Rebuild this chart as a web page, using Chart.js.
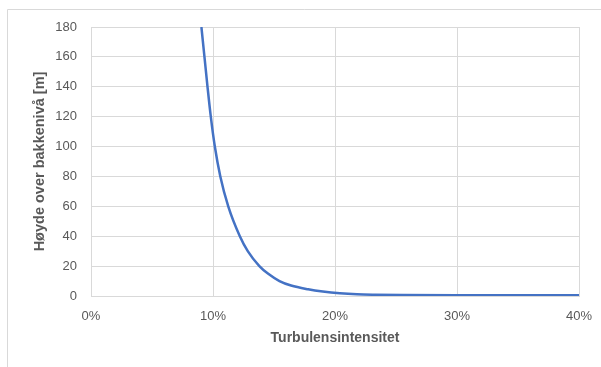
<!DOCTYPE html>
<html>
<head>
<meta charset="utf-8">
<script src="https://cdn.jsdelivr.net/npm/chart.js@4/dist/chart.umd.min.js"></script>
<style>
  html, body { margin: 0; padding: 0; background: #ffffff; overflow: hidden; }
  #wrap { position: relative; width: 601px; height: 367px; }
  canvas { display: block; }
</style>
</head>
<body>
<div id="wrap"><canvas id="c" width="601" height="367"></canvas></div>
<script>
// Turbulence intensity (%) against height above ground (m)
const turbulence = [9.05, 9.3, 9.55, 9.82, 10.15, 10.6, 11.25, 12.2, 12.85, 13.8, 14.5, 15.45, 16.4, 17.8, 19.0, 20.4, 21.8, 23.3, 25.5, 30, 35, 40];
const heights    = [180, 160, 140, 120, 100, 80, 60, 40, 30, 20, 15, 10, 7, 4.5, 3, 1.8, 1.1, 0.8, 0.6, 0.5, 0.5, 0.5];

const xTitle = 'Turbulensintensitet';
const yTitle = 'Høyde over bakkenivå [m]';

const points = turbulence.map((t, i) => ({ x: t, y: heights[i] }));

// Light outer frame around the whole chart
const framePlugin = {
  id: 'frame',
  beforeDraw(chart) {
    const ctx = chart.ctx;
    ctx.save();
    ctx.strokeStyle = '#d9d9d9';
    ctx.lineWidth = 1;
    ctx.beginPath();
    ctx.moveTo(7.5, 367);
    ctx.lineTo(7.5, 9.5);
    ctx.lineTo(601, 9.5);
    ctx.stroke();
    ctx.restore();
  }
};

const font = 'Liberation Sans, Arial, sans-serif';

new Chart(document.getElementById('c'), {
  type: 'scatter',
  data: {
    datasets: [{
      data: points,
      showLine: true,
      borderColor: '#4472c4',
      borderWidth: 2.5,
      pointRadius: 0,
      cubicInterpolationMode: 'monotone',
      fill: false
    }]
  },
  options: {
    responsive: false,
    animation: false,
    devicePixelRatio: 1,
    layout: { padding: { top: 27, right: 22, left: 0, bottom: 0 } },
    plugins: { legend: { display: false }, tooltip: { enabled: false } },
    scales: {
      x: {
        type: 'linear',
        min: 0, max: 40,
        afterFit(scale) {
          scale.height = 71;
          scale.paddingLeft = 0;
          scale.paddingRight = 0;
        },
        ticks: {
          stepSize: 10,
          padding: 13,
          color: '#595959',
          font: { family: font, size: 13 },
          callback: v => v + '%'
        },
        grid: { color: '#d9d9d9', drawTicks: false },
        border: { color: '#d9d9d9' },
        title: {
          display: true,
          text: xTitle,
          color: '#595959',
          font: { family: font, size: 14, weight: 'bold' },
          padding: { top: 0, bottom: 20 }
        }
      },
      y: {
        type: 'linear',
        min: 0, max: 180,
        afterFit(scale) { scale.width = 91; },
        ticks: {
          stepSize: 20,
          padding: 14,
          color: '#595959',
          font: { family: font, size: 13 }
        },
        grid: { color: '#d9d9d9', drawTicks: false },
        border: { color: '#d9d9d9' },
        title: {
          display: true,
          text: yTitle,
          color: '#595959',
          font: { family: font, size: 14.5, weight: 'bold' },
          padding: { top: 31, bottom: 0 }
        }
      }
    }
  },
  plugins: [framePlugin]
});
</script>
</body>
</html>
